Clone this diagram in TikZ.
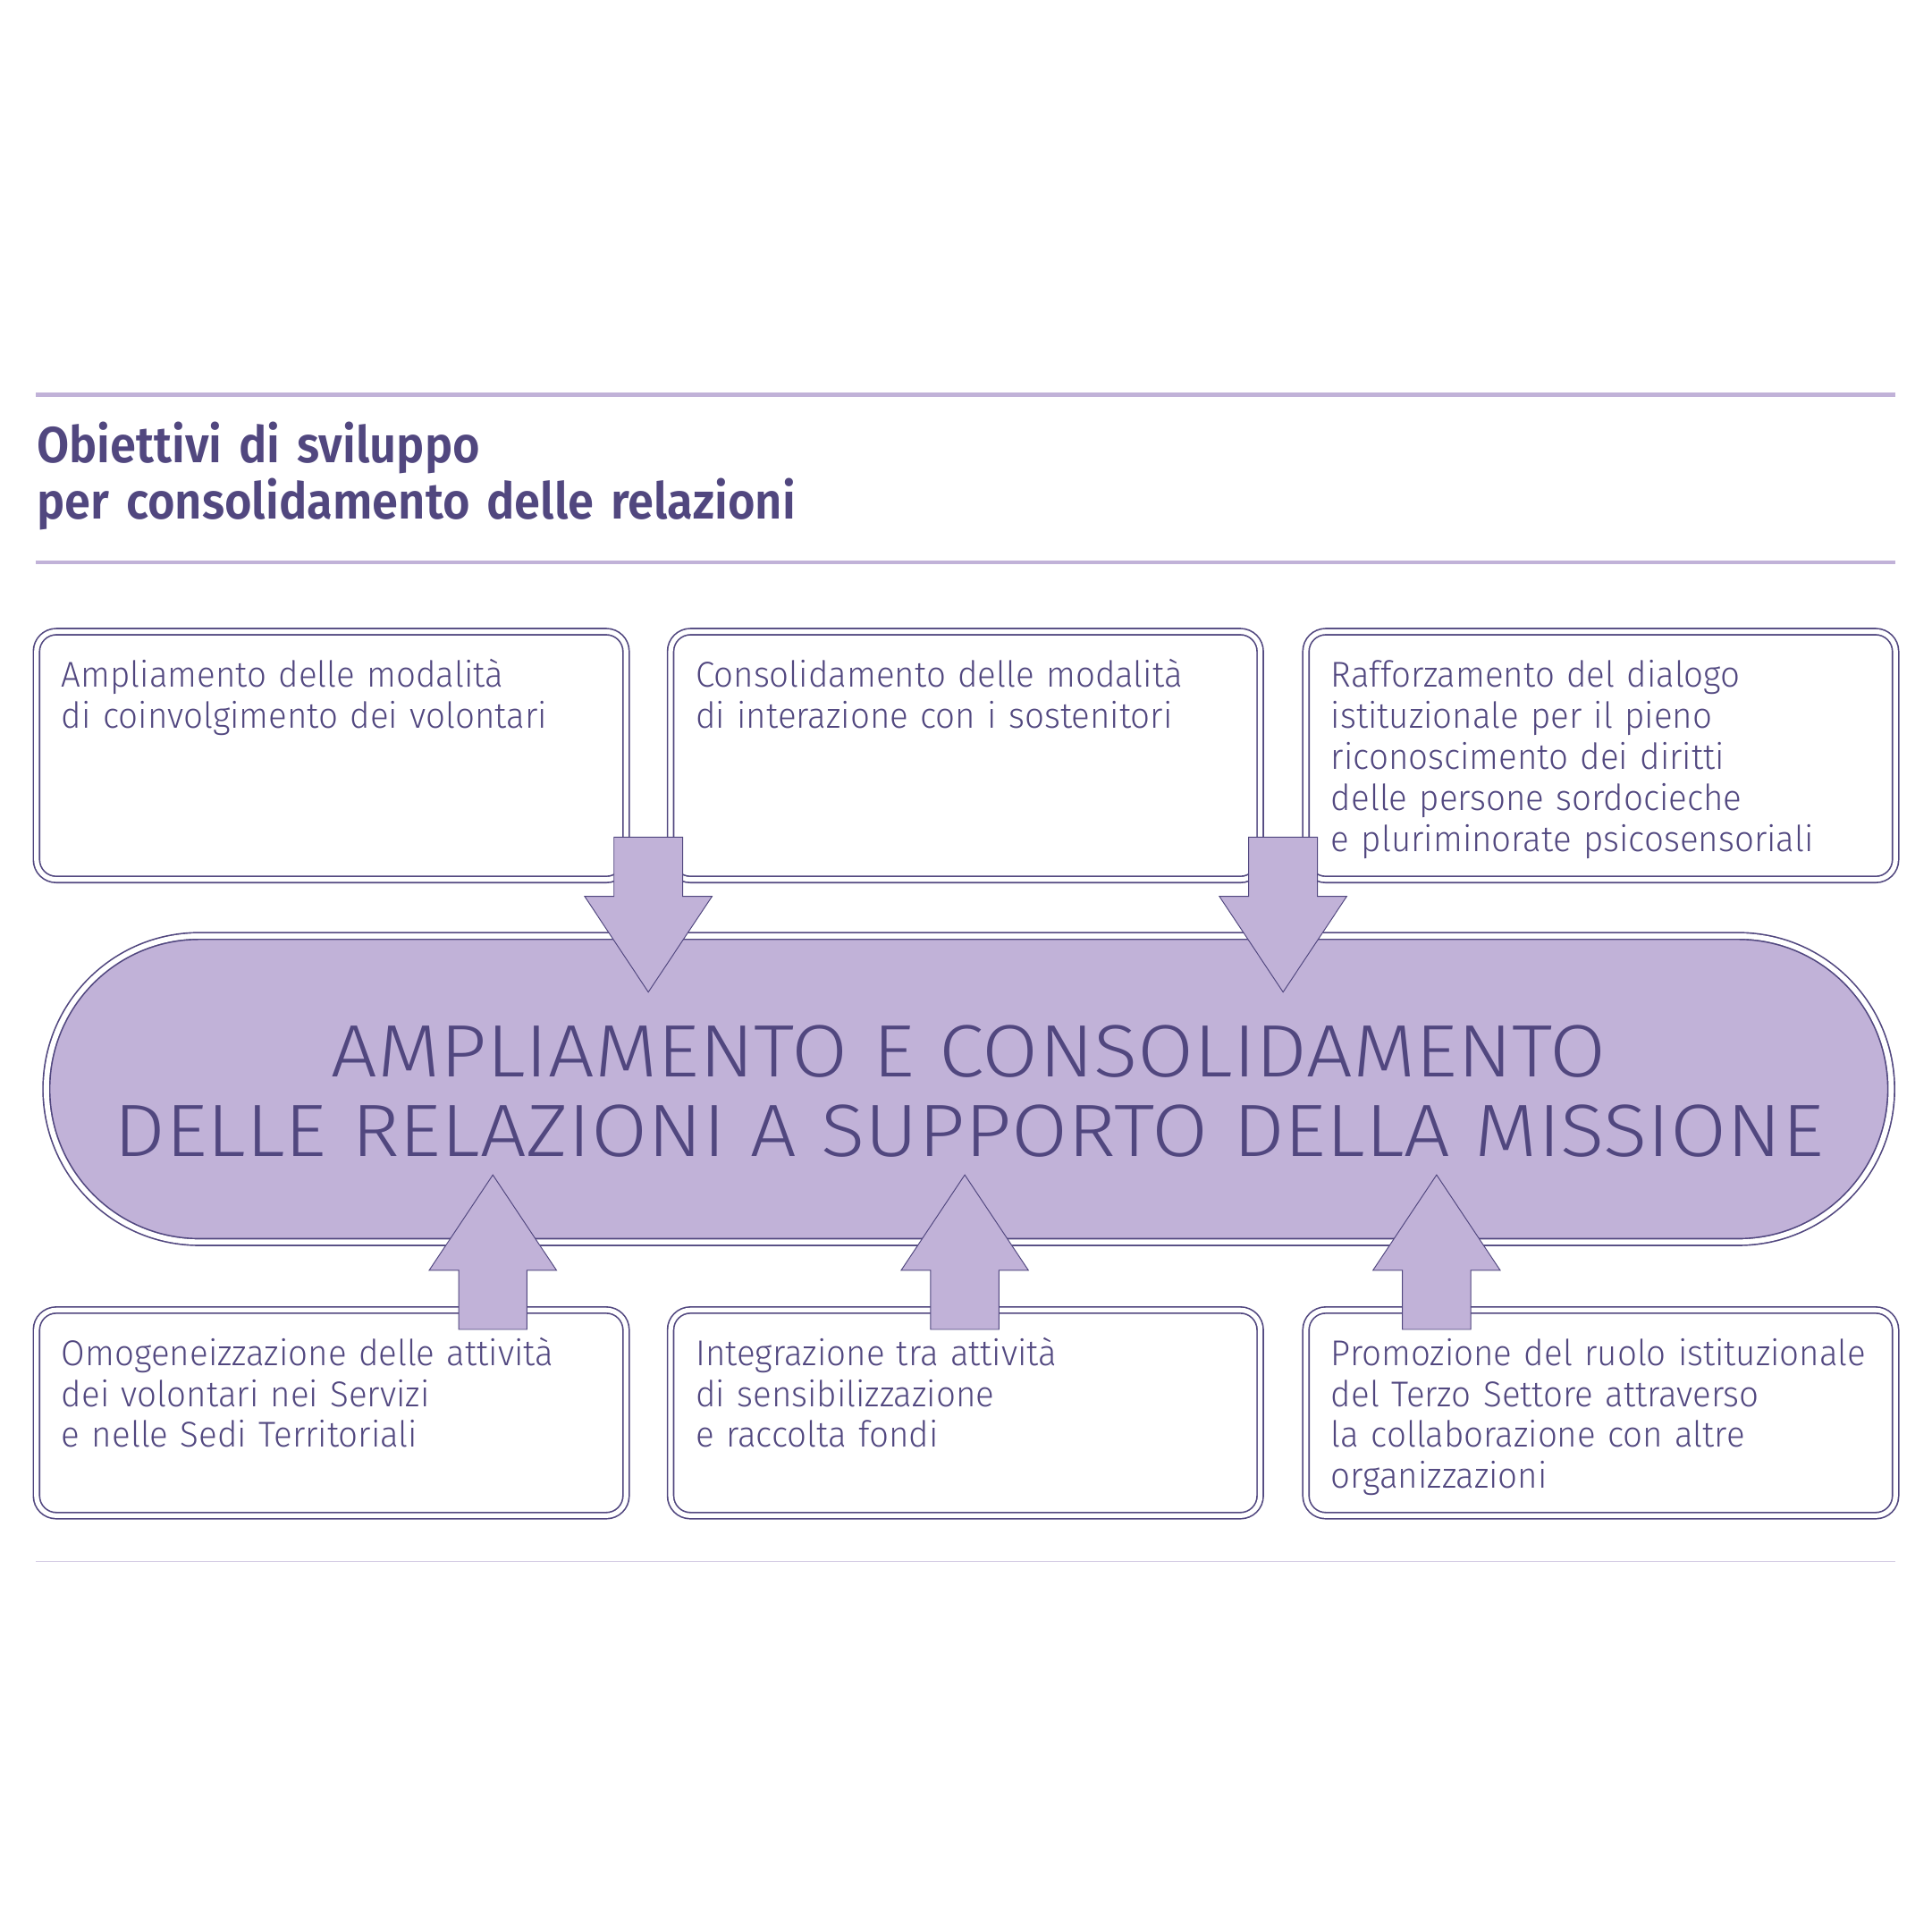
\documentclass[tikz,border=0pt]{standalone}
\usepackage{fontspec}
\usetikzlibrary{calc}
\setmainfont{Fira Sans}[UprightFont={* Light}, BoldFont={* SemiBold}, FakeStretch=0.96]
\newfontfamily\titlefont{Fira Sans SemiBold}[FakeStretch=0.925]
\newfontfamily\pillfont{Fira Sans Light}[FakeStretch=1.1]
\definecolor{dk}{HTML}{51477F}
\definecolor{lp}{HTML}{C1B2D8}
\definecolor{lq}{HTML}{D2CAE3}
\begin{document}
\begin{tikzpicture}[x=0.5pt,y=-0.5pt,
  box/.style={draw=dk, line width=0.6pt, double=white, double distance=1.9pt,
    rounded corners=8pt, rectangle, inner sep=0pt, minimum width=238.5pt},
  topbox/.style={box, minimum height=100.25pt},
  botbox/.style={box, minimum height=83.15pt},
  pill/.style={draw=dk, line width=0.6pt, double=white, double distance=2.1pt,
    fill=lp, rounded corners=61.9pt, rectangle, inner sep=0pt,
    minimum width=746.25pt, minimum height=123.8pt},
  arr/.style={fill=lp, draw=dk, line width=0.35pt, line join=miter},
  boxtext/.style={anchor=base west, inner sep=0pt, text width=230pt, align=left,
    text=dk, font=\fontsize{14.5}{16.6}\selectfont},
  rule/.style={draw=lp, line width=1.6pt}
]
\useasboundingbox (0,0) rectangle (1563,1563);
% rules
\coordinate (r1a) at (29,319.3); \coordinate (r1b) at (1533,319.3);
\coordinate (r2a) at (29,455); \coordinate (r2b) at (1533,455);
\coordinate (r3a) at (29,1263); \coordinate (r3b) at (1533,1263);
\draw[rule] (r1a) -- (r1b);
\draw[rule] (r2a) -- (r2b);
\draw[draw=lq, line width=0.5pt] (r3a) -- (r3b);
% title
\node[anchor=base west, inner sep=0pt, text width=500pt, align=left, text=dk,
  font=\titlefont\fontsize{20.5}{22.5}\selectfont] (title) at (29.5,374.6)
  {Obiettivi di sviluppo\\per consolidamento delle relazioni};
% boxes
\node[topbox] (b1) at (268,611.25) {};
\node[topbox] (b2) at (781,611.25) {};
\node[topbox] (b3) at (1295,611.25) {};
\node[botbox] (b4) at (268,1143) {};
\node[botbox] (b5) at (781,1143) {};
\node[botbox] (b6) at (1295,1143) {};
% box texts
\node[boxtext] (t1) at (49.5,556) {Ampliamento delle modalità\\di coinvolgimento dei volontari};
\node[boxtext] (t2) at (562.5,556) {Consolidamento delle modalità\\di interazione con i sostenitori};
\node[boxtext] (t3) at (1076.5,556) {Rafforzamento del dialogo\\istituzionale per il pieno\\riconoscimento dei diritti\\delle persone sordocieche\\e pluriminorate psicosensoriali};
\node[boxtext] (t4) at (49.5,1104.5) {Omogeneizzazione delle attività\\dei volontari nei Servizi\\e nelle Sedi Territoriali};
\node[boxtext] (t5) at (562.5,1104.5) {Integrazione tra attività\\di sensibilizzazione\\e raccolta fondi};
\node[boxtext] (t6) at (1076.5,1104.5) {Promozione del ruolo istituzionale\\del Terzo Settore attraverso\\la collaborazione con altre\\organizzazioni};
% pill
\node[pill] (p) at (783.75,881) {};
\node[anchor=base, inner sep=0pt, text width=740pt, align=center, text=dk,
  font=\pillfont\fontsize{30}{31.85}\selectfont] (pt) at (783.75,871.5)
  {AMPLIAMENTO E CONSOLIDAMENTO\\DELLE RELAZIONI A SUPPORTO DELLA MISSIONE};
% down arrows
\foreach \cx/\nm in {524.5/d1, 1038/d2}{
  \coordinate (\nm tip) at (\cx,802.6);
  \draw[arr] ($(\nm tip)+(-27.8,-125.3)$) -- ($(\nm tip)+(27.8,-125.3)$)
    -- ($(\nm tip)+(27.8,-77.4)$) -- ($(\nm tip)+(51.5,-77.4)$) -- (\nm tip)
    -- ($(\nm tip)+(-51.5,-77.4)$) -- ($(\nm tip)+(-27.8,-77.4)$) -- cycle;
}
% up arrows
\foreach \cx/\nm in {398.7/u1, 780.5/u2, 1162.2/u3}{
  \coordinate (\nm tip) at (\cx,950.5);
  \draw[arr] ($(\nm tip)+(-27.6,125)$) -- ($(\nm tip)+(27.6,125)$)
    -- ($(\nm tip)+(27.6,77.2)$) -- ($(\nm tip)+(51.5,77.2)$) -- (\nm tip)
    -- ($(\nm tip)+(-51.5,77.2)$) -- ($(\nm tip)+(-27.6,77.2)$) -- cycle;
}
\end{tikzpicture}
\end{document}
